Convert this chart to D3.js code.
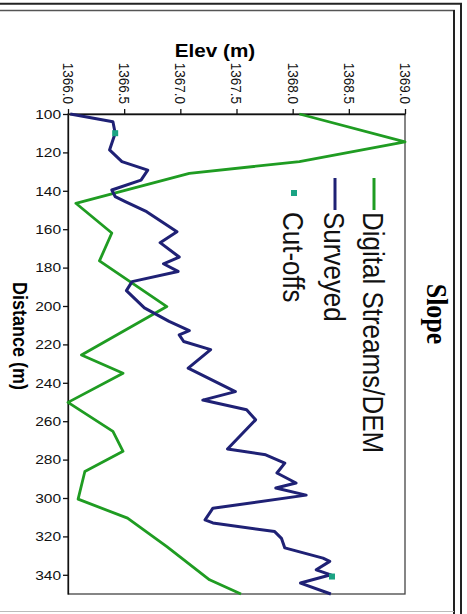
<!DOCTYPE html>
<html>
<head>
<meta charset="utf-8">
<script src="https://cdn.jsdelivr.net/npm/d3@7"></script>
<style>
  body { margin: 0; background: #fff; }
  svg { display: block; font-family: "Liberation Sans", Arial, sans-serif; }
  .axis path, .axis line { stroke: #111; stroke-width: 1.3; }
  .axis text { fill: #111; font-size: 13.5px; }
</style>
</head>
<body>
<div id="chart"></div>

<script>
  // values
  var demDist = [100, 114.5, 124.8, 130.9, 146.5, 162, 176.5, 200.3, 225.5, 235, 250.2, 265.3, 275.7, 286.2, 300.6, 310.5, 325.3, 342.6, 350];
  var demElev = [1368.06, 1369.0, 1368.06, 1367.08, 1366.07, 1366.39, 1366.28, 1366.88, 1366.12, 1366.49, 1366.0, 1366.40, 1366.49, 1366.15, 1366.09, 1366.53, 1366.88, 1367.26, 1367.54];

  var survDist = [100, 104, 110, 118.7, 124.8, 129.2, 134.4, 139.6, 143, 145.6, 150.9, 161.3, 167, 174.5, 178, 182, 187.3, 192, 201, 208, 212.8, 215, 218.5, 222.7, 232.4, 244.6, 249, 254, 259.3, 274.5, 277.5, 281.8, 287, 292.2, 294.8, 298.5, 305.3, 311.4, 313, 317.5, 321, 326, 331.3, 333, 337.4, 340, 344.3, 350];
  var survElev = [1366.02, 1366.40, 1366.42, 1366.37, 1366.48, 1366.71, 1366.65, 1366.39, 1366.42, 1366.51, 1366.70, 1366.97, 1366.82, 1366.99, 1366.85, 1366.98, 1366.57, 1366.52, 1366.68, 1366.90, 1367.08, 1366.99, 1367.03, 1367.27, 1367.07, 1367.49, 1367.20, 1367.59, 1367.67, 1367.42, 1367.76, 1367.93, 1367.86, 1368.03, 1367.85, 1368.12, 1367.29, 1367.22, 1367.29, 1367.84, 1367.90, 1367.93, 1368.27, 1368.33, 1368.21, 1368.34, 1368.07, 1368.34];

  var cutDist = [110, 340.9];
  var cutElev = [1366.42, 1368.35];

  var elevTicks = [1366.0, 1366.5, 1367.0, 1367.5, 1368.0, 1368.5, 1369.0];
  var distTicks = [100, 120, 140, 160, 180, 200, 220, 240, 260, 280, 300, 320, 340];

  var legendNames = ["Digital Streams/DEM", "Surveyed", "Cut-offs"];
  var legendColors = ["#1f9c22", "#1f2175", "#1aa383"];

  var width = 467,
      height = 614,
      sx = 1.15; // the scan is stretched a bit sideways

  var svg = d3.select("#chart")
      .append("svg")
      .attr("width", width)
      .attr("height", height);

  // chart drawn turned a quarter: elevation runs across, distance runs down
  var x = d3.scaleLinear().domain([1366, 1369]).range([68, 405]);
  var y = d3.scaleLinear().domain([100, 350]).range([114, 594]);

  // outer frame
  svg.append("line").attr("x1", 0).attr("x2", 462).attr("y1", 3.7).attr("y2", 3.7)
      .attr("stroke", "#222").attr("stroke-width", 2);
  svg.append("line").attr("x1", 0).attr("x2", 455).attr("y1", 10.5).attr("y2", 10.5)
      .attr("stroke", "#555").attr("stroke-width", 1.5);
  svg.append("line").attr("x1", 454).attr("x2", 454).attr("y1", 10).attr("y2", height)
      .attr("stroke", "#222").attr("stroke-width", 2);
  svg.append("line").attr("x1", 461).attr("x2", 461).attr("y1", 3).attr("y2", height)
      .attr("stroke", "#222").attr("stroke-width", 2);
  svg.append("line").attr("x1", 0).attr("x2", 454).attr("y1", 611.5).attr("y2", 611.5)
      .attr("stroke", "#bbb").attr("stroke-width", 1);

  // plot area border
  svg.append("rect")
      .attr("x", x(1366)).attr("y", y(100))
      .attr("width", x(1369) - x(1366)).attr("height", y(350) - y(100))
      .attr("fill", "none").attr("stroke", "#444").attr("stroke-width", 1.3);

  var elevAxis = svg.append("g")
      .attr("class", "axis")
      .attr("transform", "translate(0," + y(100) + ")")
      .call(d3.axisTop(x).tickValues(elevTicks).tickSize(5).tickSizeOuter(0).tickFormat(d3.format(".1f")));

  elevAxis.selectAll("text")
      .attr("x", 0).attr("y", 0)
      .attr("dy", "0.36em")
      .attr("text-anchor", "end")
      .attr("transform", "translate(0,-10) scale(" + sx + ",1) rotate(90)");

  var distAxis = svg.append("g")
      .attr("class", "axis")
      .attr("transform", "translate(" + x(1366) + ",0)")
      .call(d3.axisLeft(y).tickValues(distTicks).tickSize(5).tickSizeOuter(0));

  distAxis.selectAll("text")
      .attr("x", -7 / sx)
      .attr("transform", "scale(" + sx + ",1)");

  var line = d3.line()
      .x(function(d) { return x(d[1]); })
      .y(function(d) { return y(d[0]); });

  svg.append("path")
      .datum(d3.zip(demDist, demElev))
      .attr("d", line)
      .attr("fill", "none")
      .attr("stroke", legendColors[0])
      .attr("stroke-width", 2.8)
      .attr("stroke-linejoin", "round");

  svg.append("path")
      .datum(d3.zip(survDist, survElev))
      .attr("d", line)
      .attr("fill", "none")
      .attr("stroke", legendColors[1])
      .attr("stroke-width", 3)
      .attr("stroke-linejoin", "round");

  svg.selectAll(".cut")
      .data(d3.zip(cutDist, cutElev))
    .enter().append("rect")
      .attr("class", "cut")
      .attr("x", function(d) { return x(d[1]) - 3; })
      .attr("y", function(d) { return y(d[0]) - 3; })
      .attr("width", 6).attr("height", 6)
      .attr("fill", legendColors[2]);

  // axis titles
  svg.append("text")
      .attr("transform", "translate(215,57) scale(" + sx + ",1)")
      .attr("text-anchor", "middle")
      .attr("font-weight", "bold")
      .attr("font-size", 18)
      .text("Elev (m)");

  svg.append("text")
      .attr("transform", "translate(20,336) scale(" + sx + ",1) rotate(90)")
      .attr("text-anchor", "middle")
      .attr("dy", "0.36em")
      .attr("font-weight", "bold")
      .attr("font-size", 18)
      .text("Distance (m)");

  svg.append("text")
      .attr("transform", "translate(437,314) scale(" + sx + ",1) rotate(90)")
      .attr("text-anchor", "middle")
      .attr("dy", "0.34em")
      .attr("font-family", "'Liberation Serif', serif")
      .attr("font-weight", "bold")
      .attr("font-size", 26)
      .text("Slope");

  // legend, also turned
  var legX = [374, 335, 294];
  var leg = svg.selectAll(".legend")
      .data(legendNames)
    .enter().append("g")
      .attr("class", "legend")
      .attr("transform", function(d, i) { return "translate(" + legX[i] + ",0)"; });

  leg.filter(function(d, i) { return i < 2; })
    .append("line")
      .attr("x1", 0).attr("x2", 0)
      .attr("y1", 178).attr("y2", 210)
      .attr("stroke", function(d, i) { return legendColors[i]; })
      .attr("stroke-width", 3);

  leg.filter(function(d, i) { return i == 2; })
    .append("rect")
      .attr("x", -3).attr("y", 190)
      .attr("width", 6).attr("height", 6)
      .attr("fill", legendColors[2]);

  leg.append("text")
      .attr("transform", "translate(0,212) scale(" + sx + ",1) rotate(90)")
      .attr("dy", "0.36em")
      .attr("font-size", 26)
      .attr("fill", "#111")
      .text(function(d) { return d; });
</script>
</body>
</html>
